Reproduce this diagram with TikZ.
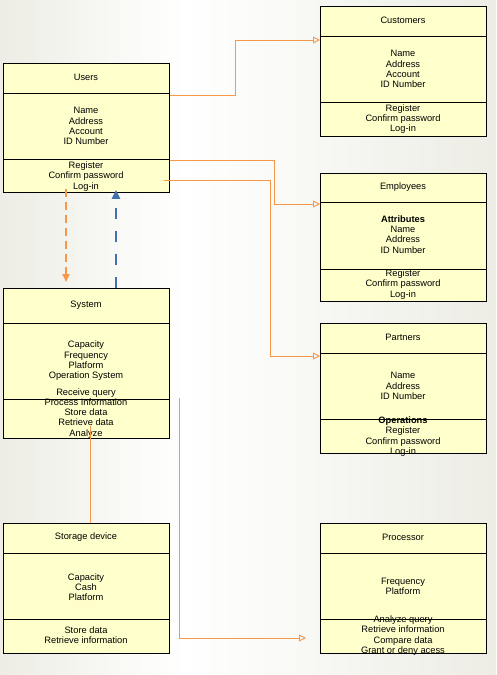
\documentclass[tikz,border=0pt]{standalone}
\usepackage{fontspec}
\setmainfont{Liberation Sans}
\usetikzlibrary{arrows.meta,calc}
\definecolor{boxfill}{HTML}{FFFFCC}
\definecolor{connclr}{HTML}{F7974A}
\definecolor{dashblue}{HTML}{4470AE}
\definecolor{bgdark}{HTML}{EDEDE5}
\tikzset{
  clsbox/.style={draw=black, line width=0.8pt, fill=boxfill, minimum width=166pt, inner sep=0pt, anchor=north west},
  divline/.style={draw=black, line width=0.8pt},
  txt/.style={font=\fontsize{9.3}{10.3}\selectfont, align=center, inner sep=0pt},
  assoc/.style={draw=connclr, line width=0.9pt, -{Triangle[open,length=7pt,width=7pt]}},
  plainlink/.style={draw=connclr, line width=0.7pt},
  orangedash/.style={draw=connclr, line width=2pt, dash pattern=on 8pt off 5pt, -{Triangle[length=8pt,width=7pt]}},
  bluedash/.style={draw=dashblue, line width=2.6pt, dash pattern=on 11pt off 12pt, -{Triangle[length=9pt,width=8pt]}}
}
\newcommand\umlbox[6]{%
  \node[clsbox, minimum height=#4pt] (#1) at (#2,#3) {};
  \draw[divline] (#1.west |- 0,#5) -- (#1.east |- 0,#5);
  \draw[divline] (#1.west |- 0,#6) -- (#1.east |- 0,#6);
}
\begin{document}
\begin{tikzpicture}[x=1pt,y=-1pt]
\useasboundingbox (0,0) rectangle (496,675);
\shade[left color=bgdark, right color=white] (0,0) rectangle (185,675);
\shade[left color=white, right color=bgdark] (185,0) rectangle (496,675);

% boxes: name, x, ytop, height, div1, div2
\umlbox{users}{3}{63}{129}{93}{159}
\umlbox{customers}{320}{6}{130}{36}{102}
\umlbox{employees}{320}{173}{128}{202}{269}
\umlbox{partners}{320}{323}{130}{353}{419}
\umlbox{system}{3}{288}{150}{323}{399}
\umlbox{storage}{3}{523}{130}{553}{619}
\umlbox{processor}{320}{523}{130}{553}{619}

% texts
\node[txt] (users-t) at (86,77.5) {Users};
\node[txt] (users-a) at (86,126) {Name\\Address\\Account\\ID Number};
\node[txt] (users-o) at (86,176.3) {Register\\Confirm password\\Log-in};

\node[txt] (customers-t) at (403,20.5) {Customers};
\node[txt] (customers-a) at (403,69) {Name\\Address\\Account\\ID Number};
\node[txt] (customers-o) at (403,119) {Register\\Confirm password\\Log-in};

\node[txt] (employees-t) at (403,187.5) {Employees};
\node[txt] (employees-a) at (403,234.5) {{\bfseries Attributes}\\Name\\Address\\ID Number};
\node[txt] (employees-o) at (403,284.5) {Register\\Confirm password\\Log-in};

\node[txt] (partners-t) at (403,337.5) {Partners};
\node[txt] (partners-a) at (403,386) {Name\\Address\\ID Number};
\node[txt] (partners-o) at (403,436.5) {{\bfseries Operations}\\Register\\Confirm password\\Log-in};

\node[txt] (system-t) at (86,305.5) {System};
\node[txt] (system-a) at (86,361) {Capacity\\Frequency\\Platform\\Operation System};
\node[txt] (system-o) at (86,413.2) {Receive query\\Process Information\\Store data\\Retrieve data\\Analyze};

\node[txt] (storage-t) at (86,537.5) {Storage device};
\node[txt] (storage-a) at (86,587) {Capacity\\Cash\\Platform};
\node[txt] (storage-o) at (86,635.5) {Store data\\Retrieve information};

\node[txt] (processor-t) at (403,537.5) {Processor};
\node[txt] (processor-a) at (403,586.5) {Frequency\\Platform};
\node[txt] (processor-o) at (403,635.5) {Analyze query\\Retrieve information\\Compare data\\Grant or deny acess};

% connectors
\draw[assoc] (users.east |- 0,95) -- ++(66,0) |- (customers.west |- 0,40);
\draw[assoc] (users.east |- 0,160) -- ++(105,0) |- (employees.west |- 0,204);
\draw[assoc] ($(users.east |- 0,180)+(-6,0)$) -- ++(107,0) |- (partners.west |- 0,356);
\coordinate (procend) at ($(processor.west |- 0,638)+(-14,0)$);
\draw[assoc] ($(system.east |- 0,398)+(10,0)$) |- (procend);
\draw[plainlink] ($(system.south)+(4,-13)$) -- ($(storage.north)+(4,0)$);
\draw[orangedash] ($(users.south west)+(63,-4)$) -- ($(system.north west)+(63,-6)$);
\draw[bluedash] ($(system.north west)+(113,0)$) -- ($(users.south west)+(113,-3)$);
\end{tikzpicture}
\end{document}
